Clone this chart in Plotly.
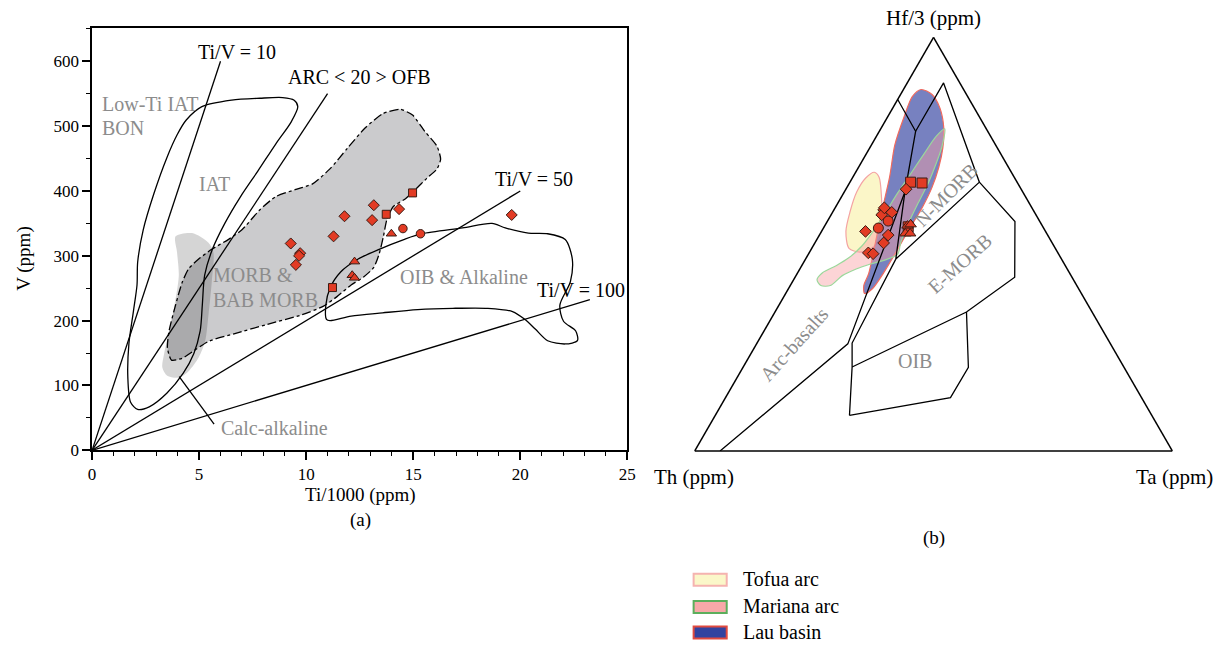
import plotly.graph_objects as go

FONT = "Liberation Serif"
RED = "#e23b24"
EDGE = "#3b1c14"
GRAY_TXT = "#8c8c8c"

# ---------------- Panel (a): Ti/1000 vs V ----------------
# Ti/V ratio lines and the Ti/1000 value where each one stops
tiv_ratios = [10, 20, 50, 100]
tiv_end_ti = [6.0, 11.0, 20.0, 23.25]

# samples
dia_ti = [9.28, 9.72, 9.67, 9.52, 11.28, 11.79, 13.16, 13.08, 14.34, 19.6]
dia_v = [319, 304, 300, 286, 330, 361, 378, 355, 372, 363]
sq_ti = [11.23, 13.74, 14.97]
sq_v = [251, 364, 397]
ci_ti = [14.52, 15.34]
ci_v = [342, 334]
tri_ti = [13.98, 12.26, 12.15, 12.26]
tri_v = [334, 291, 270, 266]

# discrimination fields (Ti/1000, V)
iat_ti = [4.39, 5.13, 6.52, 7.84, 8.90, 9.44, 9.61, 9.31, 8.57, 7.75, 6.93, 6.20, 5.62, 5.26,
          5.15, 5.05, 4.75, 4.26, 3.49, 2.67, 2.13, 1.80, 1.67, 1.72, 1.93, 2.10, 2.13, 2.39,
          2.89, 3.49, 3.98, 4.39]
iat_v = [509, 530, 540, 543, 544, 540, 530, 507, 472, 431, 391, 350, 310, 270,
         224, 184, 149, 119, 88, 67, 63, 74, 113, 164, 214, 255, 290, 340,
         396, 451, 487, 509]

oib_ti = [10.95, 10.92, 11.11, 11.61, 12.43, 13.41, 14.56, 15.4, 17.3, 18.68, 19.3, 20.38,
          21.28, 22.1, 22.43, 22.34, 21.85, 22.02, 22.59, 22.67, 22.1, 21.28, 20.7, 20.21,
          19.64, 18.49, 16.85, 15.21, 13.57, 12.1, 11.11, 10.95]
oib_v = [202, 224, 250, 275, 295, 310, 325, 334, 343, 350, 343, 335,
         334, 325, 295, 260, 224, 199, 184, 169, 164, 169, 187, 202,
         214, 219, 219, 217, 212, 207, 200, 202]

morb_ti = [3.71, 3.52, 3.59, 3.90, 4.21, 4.51, 4.98, 5.59, 6.36, 7.0, 7.84, 8.57, 9.48, 10.3,
           11.11, 11.93, 12.75, 13.57, 14.39, 14.97, 15.54, 16.11, 16.28, 16.11, 15.62, 15.13,
           14.64, 14.07, 13.77, 13.61, 13.41, 13.16, 12.67, 12.1, 11.44, 10.79, 9.8, 8.16,
           6.67, 5.44, 4.21, 3.71]
morb_v = [139, 158, 183, 224, 259, 280, 295, 310, 325, 340, 371, 391, 402, 411,
          434, 466, 497, 519, 526, 517, 492, 469, 449, 434, 419, 403,
          388, 376, 356, 330, 303, 282, 267, 255, 237, 222, 209, 194,
          180, 168, 142, 139]

calc_ti = [3.90, 4.67, 5.44, 5.67, 5.59, 5.44, 5.28, 4.98, 4.51, 4.05, 3.51, 3.28, 3.36,
           3.59, 3.82, 4.05, 3.97, 3.90]
calc_v = [330, 335, 320, 305, 259, 209, 168, 143, 122, 112, 115, 128, 148,
          183, 219, 269, 305, 330]

calc_pointer_ti = [4.07, 5.70]
calc_pointer_v = [113.5, 40.3]

# labels: text, x, y, colour
left_labels = [
    ("Ti/V = 10", 4.85, 615, "black"),
    ("ARC &lt; 20 &gt; OFB", 9.07, 575, "black"),
    ("Ti/V = 50", 18.74, 418, "black"),
    ("Ti/V = 100", 20.67, 247, "black"),
    ("Low-Ti IAT", 0.38, 534, GRAY_TXT),
    ("BON", 0.38, 497, GRAY_TXT),
    ("IAT", 4.89, 411, GRAY_TXT),
    ("MORB &amp;", 5.54, 270, GRAY_TXT),
    ("BAB MORB", 5.54, 232, GRAY_TXT),
    ("OIB &amp; Alkaline", 14.31, 267, GRAY_TXT),
    ("Calc-alkaline", 5.92, 34, GRAY_TXT),
]

# ---------------- Panel (b): Th - Hf/3 - Ta ----------------
# (Hf/3, Th, Ta) in percent
arc_line = [(0, 94.7, 5.3), (25.9, 55.0, 19.1), (62.6, 24.7, 12.7), (77.3, 15.1, 7.6), (85.0, 15.0, 0.0)]
nmorb_line = [(62.6, 24.7, 12.7), (46.4, 34.7, 18.9), (65.0, 7.9, 27.1), (89.0, 3.4, 7.6), (77.3, 15.1, 7.6)]
lower_line = [(46.4, 34.7, 18.9), (26.1, 54.0, 19.9), (20.3, 56.9, 22.8), (8.6, 63.3, 28.1)]
emorb_line = [(65.0, 7.9, 27.1), (55.5, 5.2, 39.3), (42.0, 12.0, 46.0), (33.6, 26.3, 40.1), (20.3, 56.9, 22.8)]
oib_line = [(33.6, 26.3, 40.1), (20.2, 32.6, 47.2), (12.9, 40.0, 47.1), (8.6, 63.3, 28.1)]

tofua = [(67.4, 28.7, 3.9), (66.2, 28.3, 5.5), (61.4, 30.2, 8.4), (56.2, 32.7, 11.1), (51.4, 35.6, 13.0),
         (49.0, 38.5, 12.5), (48.1, 41.4, 10.5), (49.0, 43.2, 7.8), (53.1, 41.8, 5.1), (57.9, 38.6, 3.6),
         (62.6, 34.7, 2.6), (66.0, 31.2, 2.8), (67.4, 28.7, 3.9)]
lau = [(87.4, 8.9, 3.7), (86.2, 7.2, 6.6), (82.9, 7.2, 9.9), (78.1, 8.8, 13.1), (73.3, 11.4, 15.3),
       (68.6, 14.6, 16.8), (63.8, 18.4, 17.8), (59.0, 22.8, 18.2), (53.3, 28.6, 18.1), (47.6, 34.3, 18.1),
       (42.9, 39.1, 18.0), (39.3, 43.1, 17.6), (38.1, 45.4, 16.5), (40.0, 44.6, 15.4), (42.9, 42.2, 15.0),
       (50.2, 37.1, 12.7), (58.3, 31.6, 10.1), (66.2, 26.1, 7.7), (74.0, 21.1, 4.9), (81.0, 15.6, 3.4),
       (85.7, 11.6, 2.7), (87.4, 8.9, 3.7)]
mariana = [(77.9, 8.7, 13.4), (73.8, 11.3, 14.9), (69.5, 14.7, 15.8), (64.8, 18.7, 16.5), (60.0, 23.2, 16.8),
           (55.2, 27.6, 17.2), (50.5, 31.6, 17.9), (47.6, 33.7, 18.7), (46.2, 37.0, 16.8), (45.2, 40.6, 14.2),
           (44.0, 44.2, 11.8), (42.4, 47.9, 9.7), (40.0, 51.6, 8.4), (40.0, 53.6, 6.4), (41.4, 53.7, 4.9),
           (43.1, 51.7, 5.2), (44.8, 48.0, 7.2), (46.7, 44.4, 8.9), (49.5, 40.3, 10.2), (53.3, 35.9, 10.8),
           (57.6, 31.3, 11.1), (62.4, 26.3, 11.3), (67.1, 21.2, 11.7), (71.9, 16.0, 12.1), (76.0, 11.5, 12.5),
           (77.9, 8.7, 13.4)]

t_dia = [(53.1, 37.7, 9.2), (58.3, 31.3, 10.4), (57.1, 32.3, 10.6), (57.7, 29.9, 12.4), (52.2, 33.4, 14.4),
         (50.3, 35.3, 14.4), (47.9, 39.7, 12.4), (47.7, 38.8, 13.5), (63.3, 24.1, 12.6), (58.8, 30.9, 10.3)]
t_ci = [(53.9, 34.6, 11.5), (55.6, 31.7, 12.7)]
t_sq = [(54.2, 28.2, 17.6), (65.0, 22.3, 12.7), (64.8, 20.0, 15.2)]
t_tri = [(54.5, 28.2, 17.3), (54.8, 27.4, 17.8), (52.6, 29.6, 17.8), (52.6, 28.6, 18.8)]

legend_items = [
    ("Tofua arc", "#fbf7c9", "#f5b3b0"),
    ("Mariana arc", "#f7a8a8", "#5cae5c"),
    ("Lau basin", "#3243a0", "#e04a3f"),
]


def unzip(pts):
    return [p[0] for p in pts], [p[1] for p in pts], [p[2] for p in pts]


fig = go.Figure()

# ---- panel (a) fields ----
fig.add_trace(go.Scatter(x=calc_ti, y=calc_v, mode="lines", fill="toself",
                         fillcolor="rgba(0,0,0,0.165)", line=dict(width=0, shape="spline", smoothing=0.8),
                         hoverinfo="skip"))
fig.add_trace(go.Scatter(x=morb_ti, y=morb_v, mode="lines", fill="toself",
                         fillcolor="rgba(10,10,20,0.21)",
                         line=dict(color="black", width=1.3, dash="dashdot", shape="spline", smoothing=0.6),
                         hoverinfo="skip"))
fig.add_trace(go.Scatter(x=iat_ti, y=iat_v, mode="lines",
                         line=dict(color="black", width=1.3, shape="spline", smoothing=0.8), hoverinfo="skip"))
fig.add_trace(go.Scatter(x=oib_ti, y=oib_v, mode="lines",
                         line=dict(color="black", width=1.3, shape="spline", smoothing=0.8), hoverinfo="skip"))

for r, xe in zip(tiv_ratios, tiv_end_ti):
    fig.add_trace(go.Scatter(x=[0, xe], y=[0, xe * 1000 / r], mode="lines",
                             line=dict(color="black", width=1.3), hoverinfo="skip"))

fig.add_trace(go.Scatter(x=calc_pointer_ti, y=calc_pointer_v, mode="lines",
                         line=dict(color="black", width=1.3), hoverinfo="skip"))

mk = dict(color=RED, line=dict(color=EDGE, width=1))
fig.add_trace(go.Scatter(x=dia_ti, y=dia_v, mode="markers", marker=dict(symbol="diamond", size=8.5, **mk)))
fig.add_trace(go.Scatter(x=sq_ti, y=sq_v, mode="markers", marker=dict(symbol="square", size=8, **mk)))
fig.add_trace(go.Scatter(x=ci_ti, y=ci_v, mode="markers", marker=dict(symbol="circle", size=8.5, **mk)))
fig.add_trace(go.Scatter(x=tri_ti, y=tri_v, mode="markers", marker=dict(symbol="triangle-up", size=9, **mk)))

# ---- panel (b) fields ----
for pts, fillc, linec in [(tofua, "rgba(250,245,190,0.85)", "#f4a3a3"),
                          (lau, "rgba(48,64,160,0.66)", "#f06a5e"),
                          (mariana, "rgba(248,160,165,0.45)", "#9bd89b")]:
    a, b, c = unzip(pts)
    fig.add_trace(go.Scatterternary(a=a, b=b, c=c, mode="lines", fill="toself", fillcolor=fillc,
                                    line=dict(color=linec, width=1.2, shape="spline", smoothing=0.8),
                                    hoverinfo="skip"))

for pts in [arc_line, nmorb_line, lower_line, emorb_line, oib_line]:
    a, b, c = unzip(pts)
    fig.add_trace(go.Scatterternary(a=a, b=b, c=c, mode="lines",
                                    line=dict(color="black", width=1.3), hoverinfo="skip"))

for pts, sym, size in [(t_sq, "square", 10), (t_dia, "diamond", 9), (t_ci, "circle", 10),
                       (t_tri, "triangle-up", 10)]:
    a, b, c = unzip(pts)
    fig.add_trace(go.Scatterternary(a=a, b=b, c=c, mode="markers",
                                    marker=dict(symbol=sym, size=size, **mk)))

# ---- text ----
ann = []
for text, x, y, col in left_labels:
    ann.append(dict(text=text, x=x, y=y, xref="x", yref="y", xanchor="left", yanchor="middle",
                    showarrow=False, font=dict(family=FONT, size=20, color=col)))


def paper_text(text, x, y, size=20, color="black", angle=0, xanchor="center"):
    ann.append(dict(text=text, x=x, y=y, xref="paper", yref="paper", xanchor=xanchor, yanchor="middle",
                    showarrow=False, textangle=angle, font=dict(family=FONT, size=size, color=color)))


paper_text("Ti/1000 (ppm)", 0.2939, 1 - 503 / 652, size=19)
paper_text("V (ppm)", 0.0163, 0.598, size=19, angle=-90)
paper_text("(a)", 0.2939, 1 - 528 / 652, size=19)
paper_text("(b)", 0.7673, 1 - 546 / 652, size=19)
paper_text("Hf/3 (ppm)", 0.7673, 0.9724, size=21)
paper_text("Th (ppm)", 0.569, 1 - 484 / 652, size=21)
paper_text("Ta (ppm)", 0.9657, 1 - 484 / 652, size=21)
paper_text("N-MORB", 0.7771, 0.6963, color=GRAY_TXT, angle=-45)
paper_text("E-MORB", 0.7891, 0.5897, color=GRAY_TXT, angle=-42)
paper_text("OIB", 0.7518, 0.4371, color=GRAY_TXT)
paper_text("Arc-basalts", 0.6517, 0.4647, color=GRAY_TXT, angle=-48)

# legend swatches
shapes = []
leg_y = [0.0971, 0.0546, 0.0148]
for (name, fillc, linec), yc in zip(legend_items, leg_y):
    shapes.append(dict(type="rect", xref="paper", yref="paper", x0=0.5690, x1=0.5963,
                       y0=yc - 0.0093, y1=yc + 0.0093, fillcolor=fillc, line=dict(color=linec, width=2)))
    paper_text(name, 0.6082, yc + 0.001, size=20, xanchor="left")

axis_common = dict(showgrid=False, zeroline=False, showline=True, mirror=True, linecolor="black",
                   linewidth=1.5, ticks="outside", ticklen=8, tickwidth=1.5, tickcolor="black",
                   tickfont=dict(family=FONT, size=17, color="black"))

fig.update_layout(
    width=1225, height=652, margin=dict(l=0, r=0, t=0, b=0),
    paper_bgcolor="white", plot_bgcolor="white", showlegend=False,
    xaxis=dict(domain=[89 / 1225, 630 / 1225], range=[0, 25], dtick=5,
               minor=dict(dtick=1, ticks="outside", ticklen=4, tickwidth=1.3, tickcolor="black"),
               **axis_common),
    yaxis=dict(domain=[(652 - 457.3) / 652, (652 - 28) / 652], range=[0, 652], dtick=100,
               minor=dict(dtick=50, ticks="outside", ticklen=4, tickwidth=1.3, tickcolor="black"),
               **axis_common),
    ternary=dict(
        sum=100, bgcolor="white",
        domain=dict(x=[695 / 1225, 1184 / 1225], y=[194 / 652, 614 / 652]),
        aaxis=dict(showticklabels=False, ticks="", showgrid=False, linecolor="black", linewidth=1.5, title=""),
        baxis=dict(showticklabels=False, ticks="", showgrid=False, linecolor="black", linewidth=1.5, title=""),
        caxis=dict(showticklabels=False, ticks="", showgrid=False, linecolor="black", linewidth=1.5, title=""),
    ),
    annotations=ann, shapes=shapes,
)

fig.write_html("out.html")
